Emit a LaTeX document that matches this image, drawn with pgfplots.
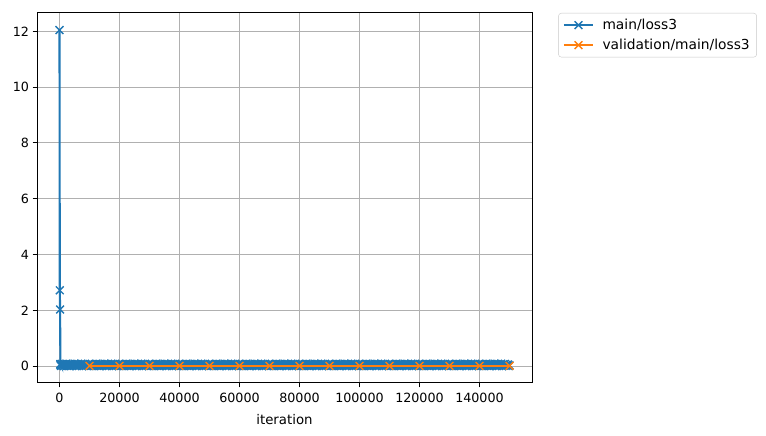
\documentclass[border=0pt]{standalone}
\usepackage{pgfplots}
\pgfplotsset{compat=1.18}
\usepackage{fontspec}
\setmainfont{DejaVu Sans}
\definecolor{c0}{HTML}{1F77B4}
\definecolor{c1}{HTML}{FF7F0E}
\definecolor{gridc}{HTML}{B0B0B0}
\newcommand{\fs}{\fontsize{12.7}{15}\selectfont}
\newcommand{\fl}{\fontsize{13.3}{16}\selectfont}
\newcommand{\fg}{\fontsize{13.8}{16}\selectfont}
\begin{document}
\begin{tikzpicture}[x=1pt,y=1pt]
\useasboundingbox (0,0) rectangle (766,436);
\begin{axis}[
  at={(37pt,53pt)}, anchor=south west,
  scale only axis, width=495pt, height=370pt,
  xmin=-7500, xmax=157500, ymin=-0.603, ymax=12.66,
  xtick={0,20000,40000,60000,80000,100000,120000,140000},
  ytick={0,2,4,6,8,10,12},
  scaled x ticks=false, scaled y ticks=false,
  xticklabels={0,20000,40000,60000,80000,100000,120000,140000},
  yticklabels={0,2,4,6,8,10,12},
  tick label style={font=\fs},
  xticklabel style={yshift=-2pt},
  label style={font=\fl},
  xlabel={iteration},
  xlabel style={yshift=-5pt},
  grid=major,
  major grid style={draw=gridc, line width=1.0pt},
  axis line style={line width=1.0pt},
  tick style={black, line width=1.0pt},
  tick align=outside, major tick length=4.4pt,
  xtick pos=bottom, ytick pos=left,
  clip marker paths=true,
  legend cell align=left,
  legend style={at={(1.053,1)}, anchor=north west, draw=gridc!70, rounded corners=3pt,
    font=\fg, row sep=4pt, inner xsep=4.5pt, inner ysep=4pt,
    nodes={inner xsep=2.5pt}},
  legend image code/.code={\draw[mark repeat=2,mark phase=2,#1] plot coordinates {(0pt,0pt) (14.5pt,0pt) (29pt,0pt)};},
]
\addplot[c0, line width=2.1pt, mark=x, mark size=5.5pt, mark options={line width=1.4pt}] coordinates {
(0,12.05)(100,2.72)(200,2.03)(300,0.08)(400,0.03)
(250,.06)(500,.01)(750,.08)(1000,.02)(1250,.05)(1500,.00)(1750,.07)(2000,.03)(2250,.09)(2500,.01)(2750,.04)(3000,.06)(3250,.00)(3500,.08)(3750,.02)(4000,.07)(4250,.01)(4500,.05)(4750,.03)(5000,.09)
(5250,.02)(5500,.07)(5750,.00)(6000,.05)(6250,.08)(6500,.01)(6750,.06)(7000,.03)(7250,.09)(7500,.00)(7750,.04)(8000,.07)(8250,.02)(8500,.08)(8750,.01)(9000,.05)(9250,.03)(9500,.06)(9750,.00)(10000,.08)
(10250,.06)(10500,.01)(10750,.08)(11000,.02)(11250,.05)(11500,.00)(11750,.07)(12000,.03)(12250,.09)(12500,.01)(12750,.04)(13000,.06)(13250,.00)(13500,.08)(13750,.02)(14000,.07)(14250,.01)(14500,.05)(14750,.03)(15000,.09)
(15250,.02)(15500,.07)(15750,.00)(16000,.05)(16250,.08)(16500,.01)(16750,.06)(17000,.03)(17250,.09)(17500,.00)(17750,.04)(18000,.07)(18250,.02)(18500,.08)(18750,.01)(19000,.05)(19250,.03)(19500,.06)(19750,.00)(20000,.08)
(20250,.06)(20500,.01)(20750,.08)(21000,.02)(21250,.05)(21500,.00)(21750,.07)(22000,.03)(22250,.09)(22500,.01)(22750,.04)(23000,.06)(23250,.00)(23500,.08)(23750,.02)(24000,.07)(24250,.01)(24500,.05)(24750,.03)(25000,.09)
(25250,.02)(25500,.07)(25750,.00)(26000,.05)(26250,.08)(26500,.01)(26750,.06)(27000,.03)(27250,.09)(27500,.00)(27750,.04)(28000,.07)(28250,.02)(28500,.08)(28750,.01)(29000,.05)(29250,.03)(29500,.06)(29750,.00)(30000,.08)
(30250,.06)(30500,.01)(30750,.08)(31000,.02)(31250,.05)(31500,.00)(31750,.07)(32000,.03)(32250,.09)(32500,.01)(32750,.04)(33000,.06)(33250,.00)(33500,.08)(33750,.02)(34000,.07)(34250,.01)(34500,.05)(34750,.03)(35000,.09)
(35250,.02)(35500,.07)(35750,.00)(36000,.05)(36250,.08)(36500,.01)(36750,.06)(37000,.03)(37250,.09)(37500,.00)(37750,.04)(38000,.07)(38250,.02)(38500,.08)(38750,.01)(39000,.05)(39250,.03)(39500,.06)(39750,.00)(40000,.08)
(40250,.06)(40500,.01)(40750,.08)(41000,.02)(41250,.05)(41500,.00)(41750,.07)(42000,.03)(42250,.09)(42500,.01)(42750,.04)(43000,.06)(43250,.00)(43500,.08)(43750,.02)(44000,.07)(44250,.01)(44500,.05)(44750,.03)(45000,.09)
(45250,.02)(45500,.07)(45750,.00)(46000,.05)(46250,.08)(46500,.01)(46750,.06)(47000,.03)(47250,.09)(47500,.00)(47750,.04)(48000,.07)(48250,.02)(48500,.08)(48750,.01)(49000,.05)(49250,.03)(49500,.06)(49750,.00)(50000,.08)
(50250,.06)(50500,.01)(50750,.08)(51000,.02)(51250,.05)(51500,.00)(51750,.07)(52000,.03)(52250,.09)(52500,.01)(52750,.04)(53000,.06)(53250,.00)(53500,.08)(53750,.02)(54000,.07)(54250,.01)(54500,.05)(54750,.03)(55000,.09)
(55250,.02)(55500,.07)(55750,.00)(56000,.05)(56250,.08)(56500,.01)(56750,.06)(57000,.03)(57250,.09)(57500,.00)(57750,.04)(58000,.07)(58250,.02)(58500,.08)(58750,.01)(59000,.05)(59250,.03)(59500,.06)(59750,.00)(60000,.08)
(60250,.06)(60500,.01)(60750,.08)(61000,.02)(61250,.05)(61500,.00)(61750,.07)(62000,.03)(62250,.09)(62500,.01)(62750,.04)(63000,.06)(63250,.00)(63500,.08)(63750,.02)(64000,.07)(64250,.01)(64500,.05)(64750,.03)(65000,.09)
(65250,.02)(65500,.07)(65750,.00)(66000,.05)(66250,.08)(66500,.01)(66750,.06)(67000,.03)(67250,.09)(67500,.00)(67750,.04)(68000,.07)(68250,.02)(68500,.08)(68750,.01)(69000,.05)(69250,.03)(69500,.06)(69750,.00)(70000,.08)
(70250,.06)(70500,.01)(70750,.08)(71000,.02)(71250,.05)(71500,.00)(71750,.07)(72000,.03)(72250,.09)(72500,.01)(72750,.04)(73000,.06)(73250,.00)(73500,.08)(73750,.02)(74000,.07)(74250,.01)(74500,.05)(74750,.03)(75000,.09)
(75250,.02)(75500,.07)(75750,.00)(76000,.05)(76250,.08)(76500,.01)(76750,.06)(77000,.03)(77250,.09)(77500,.00)(77750,.04)(78000,.07)(78250,.02)(78500,.08)(78750,.01)(79000,.05)(79250,.03)(79500,.06)(79750,.00)(80000,.08)
(80250,.06)(80500,.01)(80750,.08)(81000,.02)(81250,.05)(81500,.00)(81750,.07)(82000,.03)(82250,.09)(82500,.01)(82750,.04)(83000,.06)(83250,.00)(83500,.08)(83750,.02)(84000,.07)(84250,.01)(84500,.05)(84750,.03)(85000,.09)
(85250,.02)(85500,.07)(85750,.00)(86000,.05)(86250,.08)(86500,.01)(86750,.06)(87000,.03)(87250,.09)(87500,.00)(87750,.04)(88000,.07)(88250,.02)(88500,.08)(88750,.01)(89000,.05)(89250,.03)(89500,.06)(89750,.00)(90000,.08)
(90250,.06)(90500,.01)(90750,.08)(91000,.02)(91250,.05)(91500,.00)(91750,.07)(92000,.03)(92250,.09)(92500,.01)(92750,.04)(93000,.06)(93250,.00)(93500,.08)(93750,.02)(94000,.07)(94250,.01)(94500,.05)(94750,.03)(95000,.09)
(95250,.02)(95500,.07)(95750,.00)(96000,.05)(96250,.08)(96500,.01)(96750,.06)(97000,.03)(97250,.09)(97500,.00)(97750,.04)(98000,.07)(98250,.02)(98500,.08)(98750,.01)(99000,.05)(99250,.03)(99500,.06)(99750,.00)(100000,.08)
(100250,.06)(100500,.01)(100750,.08)(101000,.02)(101250,.05)(101500,.00)(101750,.07)(102000,.03)(102250,.09)(102500,.01)(102750,.04)(103000,.06)(103250,.00)(103500,.08)(103750,.02)(104000,.07)(104250,.01)(104500,.05)(104750,.03)(105000,.09)
(105250,.02)(105500,.07)(105750,.00)(106000,.05)(106250,.08)(106500,.01)(106750,.06)(107000,.03)(107250,.09)(107500,.00)(107750,.04)(108000,.07)(108250,.02)(108500,.08)(108750,.01)(109000,.05)(109250,.03)(109500,.06)(109750,.00)(110000,.08)
(110250,.06)(110500,.01)(110750,.08)(111000,.02)(111250,.05)(111500,.00)(111750,.07)(112000,.03)(112250,.09)(112500,.01)(112750,.04)(113000,.06)(113250,.00)(113500,.08)(113750,.02)(114000,.07)(114250,.01)(114500,.05)(114750,.03)(115000,.09)
(115250,.02)(115500,.07)(115750,.00)(116000,.05)(116250,.08)(116500,.01)(116750,.06)(117000,.03)(117250,.09)(117500,.00)(117750,.04)(118000,.07)(118250,.02)(118500,.08)(118750,.01)(119000,.05)(119250,.03)(119500,.06)(119750,.00)(120000,.08)
(120250,.06)(120500,.01)(120750,.08)(121000,.02)(121250,.05)(121500,.00)(121750,.07)(122000,.03)(122250,.09)(122500,.01)(122750,.04)(123000,.06)(123250,.00)(123500,.08)(123750,.02)(124000,.07)(124250,.01)(124500,.05)(124750,.03)(125000,.09)
(125250,.02)(125500,.07)(125750,.00)(126000,.05)(126250,.08)(126500,.01)(126750,.06)(127000,.03)(127250,.09)(127500,.00)(127750,.04)(128000,.07)(128250,.02)(128500,.08)(128750,.01)(129000,.05)(129250,.03)(129500,.06)(129750,.00)(130000,.08)
(130250,.06)(130500,.01)(130750,.08)(131000,.02)(131250,.05)(131500,.00)(131750,.07)(132000,.03)(132250,.09)(132500,.01)(132750,.04)(133000,.06)(133250,.00)(133500,.08)(133750,.02)(134000,.07)(134250,.01)(134500,.05)(134750,.03)(135000,.09)
(135250,.02)(135500,.07)(135750,.00)(136000,.05)(136250,.08)(136500,.01)(136750,.06)(137000,.03)(137250,.09)(137500,.00)(137750,.04)(138000,.07)(138250,.02)(138500,.08)(138750,.01)(139000,.05)(139250,.03)(139500,.06)(139750,.00)(140000,.08)
(140250,.06)(140500,.01)(140750,.08)(141000,.02)(141250,.05)(141500,.00)(141750,.07)(142000,.03)(142250,.09)(142500,.01)(142750,.04)(143000,.06)(143250,.00)(143500,.08)(143750,.02)(144000,.07)(144250,.01)(144500,.05)(144750,.03)(145000,.09)
(145250,.02)(145500,.07)(145750,.00)(146000,.05)(146250,.08)(146500,.01)(146750,.06)(147000,.03)(147250,.09)(147500,.00)(147750,.04)(148000,.07)(148250,.02)(148500,.08)(148750,.01)(149000,.05)(149250,.03)(149500,.06)(149750,.00)(150000,.03)
};
\addlegendentry{\hspace*{6pt}main/loss3}
\addplot[c1, line width=2.1pt, mark=x, mark size=5.5pt, mark options={line width=1.4pt}] coordinates {
(10000,0.01) (20000,0.01) (30000,0.01) (40000,0.01) (50000,0.01) (60000,0.01) (70000,0.01) (80000,0.01)
(90000,0.01) (100000,0.01) (110000,0.01) (120000,0.01) (130000,0.01) (140000,0.01) (150000,0.01)
};
\addlegendentry{\hspace*{6pt}validation/main/loss3}
\end{axis}
\end{tikzpicture}
\end{document}
